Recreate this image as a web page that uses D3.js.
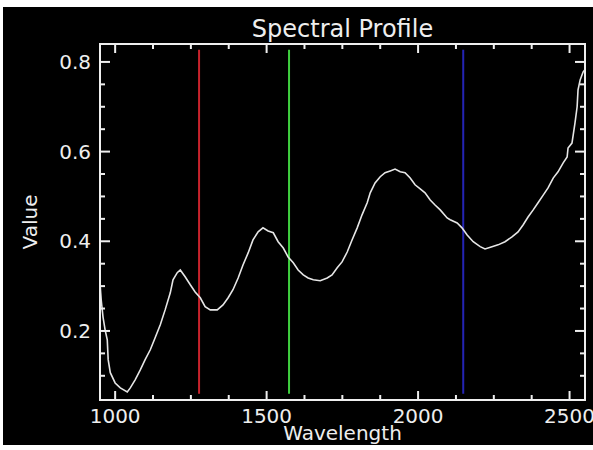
<!DOCTYPE html>
<html>
<head>
<meta charset="utf-8">
<script src="https://cdn.jsdelivr.net/npm/d3@7"></script>
<style>
  body { margin: 0; background: #fff; }
  svg { display: block; }
  text { font-family: "DejaVu Sans", sans-serif; fill: #eee; }
</style>
</head>
<body>
<svg id="chart" width="593" height="450"></svg>
<script>
// spectrum
const wavelength = [950, 954, 960, 967, 974, 977, 984, 1000, 1017, 1040, 1050, 1066, 1083, 1099, 1116,
  1132, 1149, 1165, 1182, 1191, 1205, 1215, 1231, 1248, 1264, 1281, 1297, 1314, 1337, 1356,
  1373, 1389, 1406, 1422, 1439, 1455, 1472, 1488, 1505, 1522, 1538, 1555, 1571, 1588, 1604,
  1621, 1637, 1654, 1677, 1700, 1716, 1733, 1749, 1766, 1782, 1799, 1815, 1832, 1842, 1858,
  1875, 1891, 1908, 1924, 1941, 1957, 1974, 1990, 2007, 2023, 2040, 2056, 2073, 2096, 2106,
  2129, 2145, 2162, 2182, 2205, 2221, 2244, 2264, 2287, 2310, 2330, 2347, 2363, 2380, 2396,
  2413, 2429, 2446, 2462, 2479, 2492, 2495, 2508, 2512, 2518, 2525, 2528, 2535, 2541, 2545, 2550];
const value = [0.307, 0.269, 0.231, 0.202, 0.180, 0.136, 0.107, 0.084, 0.073, 0.064, 0.073, 0.091, 0.113, 0.136, 0.158,
  0.185, 0.214, 0.247, 0.285, 0.314, 0.330, 0.336, 0.321, 0.303, 0.287, 0.274, 0.254, 0.247, 0.247, 0.258,
  0.274, 0.292, 0.318, 0.347, 0.374, 0.403, 0.421, 0.430, 0.423, 0.419, 0.399, 0.385, 0.365, 0.352, 0.336,
  0.325, 0.318, 0.314, 0.312, 0.318, 0.325, 0.341, 0.354, 0.376, 0.403, 0.430, 0.459, 0.486, 0.508, 0.530,
  0.544, 0.553, 0.557, 0.561, 0.555, 0.553, 0.541, 0.526, 0.517, 0.508, 0.492, 0.481, 0.470, 0.452, 0.448,
  0.441, 0.430, 0.414, 0.399, 0.388, 0.383, 0.388, 0.392, 0.399, 0.410, 0.421, 0.437, 0.454, 0.470, 0.486,
  0.503, 0.519, 0.541, 0.555, 0.575, 0.588, 0.608, 0.619, 0.637, 0.664, 0.700, 0.738, 0.760, 0.771, 0.778, 0.782];

const bandWavelength = [1277, 1574, 2149];
const bandColor = ["#c8232c", "#3fcf3f", "#2424b4"];
const bandRange = [0.06, 0.827];

const xTicks = [1000, 1500, 2000, 2500];
const yTicks = [0.2, 0.4, 0.6, 0.8];
const xMinor = d3.range(1000, 2551, 125);
const yMinor = d3.range(0.1, 0.84, 0.05);

const svg = d3.select("#chart");
const mLeft = 100, mRight = 585, mTop = 44, mBottom = 400;

svg.append("rect")
    .attr("x", 3).attr("y", 7)
    .attr("width", 590).attr("height", 438)
    .attr("fill", "#000");

const x = d3.scaleLinear().domain([950, 2551]).range([mLeft, mRight]);
const y = d3.scaleLinear().domain([0.046, 0.84]).range([mBottom, mTop]);

// vertical band markers
svg.selectAll(".band")
  .data(bandWavelength)
  .enter().append("line")
    .attr("x1", d => x(d)).attr("x2", d => x(d))
    .attr("y1", y(bandRange[0])).attr("y2", y(bandRange[1]))
    .attr("stroke", (d, i) => bandColor[i])
    .attr("stroke-width", 2);

// spectrum
const pts = wavelength.map((w, i) => [w, value[i]]);
svg.append("path")
    .datum(pts)
    .attr("fill", "none")
    .attr("stroke", "#e6e6e6")
    .attr("stroke-width", 1.6)
    .attr("d", d3.line().x(d => x(d[0])).y(d => y(d[1])));

// frame and inward ticks on all four sides
const g = svg.append("g").attr("stroke", "#eee").attr("stroke-width", 2);

g.append("rect")
    .attr("x", mLeft).attr("y", mTop)
    .attr("width", mRight - mLeft).attr("height", mBottom - mTop)
    .attr("fill", "none");

function xTick(v, len) {
  g.append("line").attr("x1", x(v)).attr("x2", x(v)).attr("y1", mBottom).attr("y2", mBottom - len);
  g.append("line").attr("x1", x(v)).attr("x2", x(v)).attr("y1", mTop).attr("y2", mTop + len);
}
function yTick(v, len) {
  g.append("line").attr("y1", y(v)).attr("y2", y(v)).attr("x1", mLeft).attr("x2", mLeft + len);
  g.append("line").attr("y1", y(v)).attr("y2", y(v)).attr("x1", mRight).attr("x2", mRight - len);
}
xMinor.forEach(v => xTick(v, xTicks.includes(v) ? 9 : 5));
yMinor.forEach(v => yTick(v, yTicks.some(t => Math.abs(t - v) < 1e-6) ? 10 : 5));

// labels
svg.selectAll(".xl")
  .data(xTicks)
  .enter().append("text")
    .attr("x", d => x(d)).attr("y", 423)
    .attr("text-anchor", "middle")
    .attr("font-size", 20)
    .text(d => d);

svg.selectAll(".yl")
  .data(yTicks)
  .enter().append("text")
    .attr("x", 91).attr("y", d => y(d) + 7)
    .attr("text-anchor", "end")
    .attr("font-size", 20)
    .text(d => d3.format(".1f")(d));

svg.append("text")
    .attr("x", (mLeft + mRight) / 2).attr("y", 37)
    .attr("text-anchor", "middle")
    .attr("font-size", 24)
    .text("Spectral Profile");

svg.append("text")
    .attr("x", (mLeft + mRight) / 2).attr("y", 440)
    .attr("text-anchor", "middle")
    .attr("font-size", 20)
    .text("Wavelength");

svg.append("text")
    .attr("transform", "translate(37," + (mTop + mBottom) / 2 + ") rotate(-90)")
    .attr("text-anchor", "middle")
    .attr("font-size", 20)
    .text("Value");
</script>
</body>
</html>
